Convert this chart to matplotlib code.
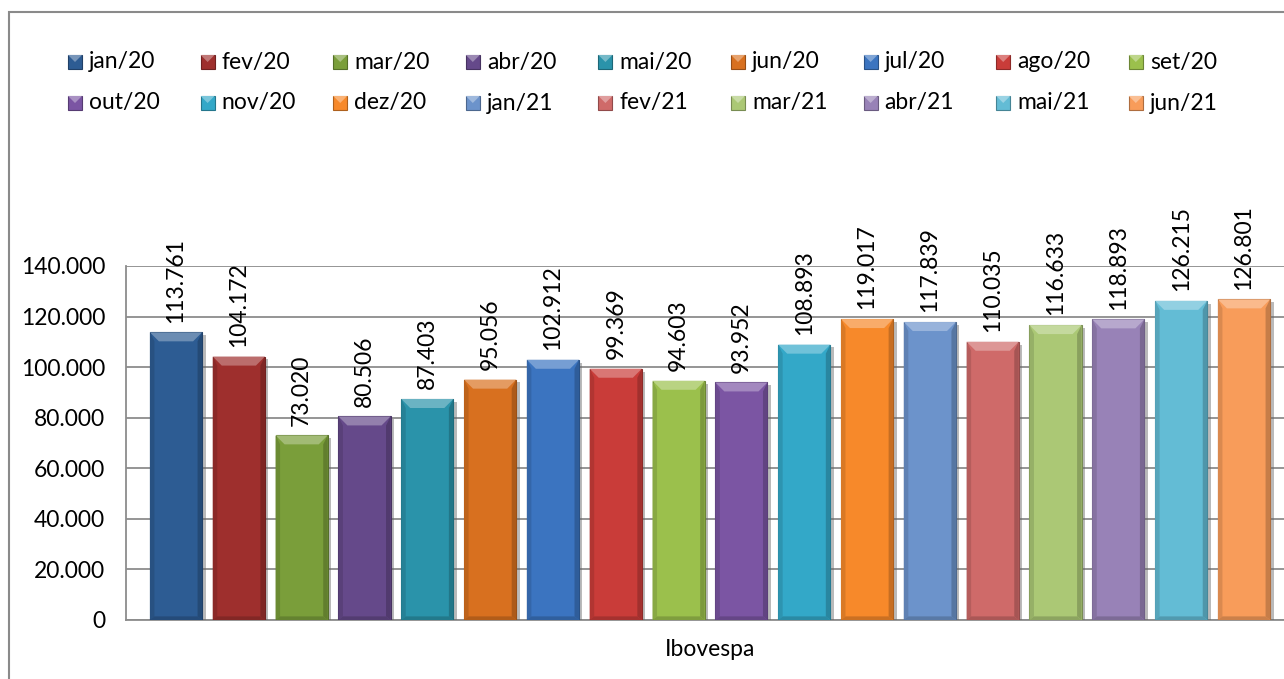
import matplotlib
matplotlib.use('Agg')
import matplotlib.pyplot as plt
import matplotlib.patheffects as pe
from matplotlib.patches import Rectangle, Polygon
from matplotlib.colors import to_rgb
from matplotlib.ticker import FuncFormatter
import numpy as np

meses = ['jan/20', 'fev/20', 'mar/20', 'abr/20', 'mai/20', 'jun/20',
         'jul/20', 'ago/20', 'set/20', 'out/20', 'nov/20', 'dez/20',
         'jan/21', 'fev/21', 'mar/21', 'abr/21', 'mai/21', 'jun/21']
valores = [113761, 104172, 73020, 80506, 87403, 95056,
           102912, 99369, 94603, 93952, 108893, 119017,
           117839, 110035, 116633, 118893, 126215, 126801]
cores = ['#2D5C93', '#9E2F2D', '#7A9E3A', '#65498A', '#2A93AA', '#D8701F',
         '#3B74C0', '#C93C39', '#9BC04C', '#7B55A3', '#33A8C8', '#F7892A',
         '#6C93CB', '#CF6A69', '#ABC875', '#9882B7', '#63BCD5', '#F89C5A']
y_ticks = [0, 20000, 40000, 60000, 80000, 100000, 120000, 140000]


def milhar(v, pos=None):
    return f"{int(v):,}".replace(",", ".")


def clarear(c, f):
    r = np.array(to_rgb(c))
    return tuple(r + (1 - r) * f)


def escurecer(c, f):
    return tuple(np.array(to_rgb(c)) * f)


plt.rcParams['font.family'] = ['Lato', 'DejaVu Sans']
FS = 16.5
W, H = 1284, 679
fig = plt.figure(figsize=(W / 100, H / 100), dpi=100)

# moldura externa do gráfico
fig.patches.append(Rectangle((9 / W, -0.1), 1.2, 1.1 - 12 / H, transform=fig.transFigure,
                             fill=False, edgecolor='#8a8a8a', linewidth=1.5))

ax = fig.add_axes([126 / W, 59 / H, (1294 - 126) / W, (620 - 266) / H])

x = np.arange(len(valores))
largura = 0.83
barras = ax.bar(x, valores, largura, color=cores,
                edgecolor=[escurecer(c, 0.7) for c in cores], linewidth=0.8, zorder=3,
                path_effects=[pe.SimplePatchShadow(offset=(2.5, -2), shadow_rgbFace='#666666', alpha=0.45),
                              pe.Normal()])

# chanfro: faceta clara no topo e laterais mais escuras
dx = 9 / 62.8
dy = 9 * 140000 / 354
for xi, v, c in zip(x, valores, cores):
    xl, xr = xi - largura / 2, xi + largura / 2
    ax.add_patch(Polygon([(xl, v), (xr, v), (xr - dx, v - dy), (xl + dx, v - dy)],
                         closed=True, facecolor=clarear(c, 0.3), edgecolor='none', zorder=4))
    ax.add_patch(Polygon([(xl, v), (xl + dx * 0.5, v - dy), (xl + dx * 0.5, dy * 0.4), (xl, 0)],
                         closed=True, facecolor=escurecer(c, 0.88), edgecolor='none', zorder=4))
    ax.add_patch(Polygon([(xr, v), (xr - dx * 0.5, v - dy), (xr - dx * 0.5, dy * 0.4), (xr, 0)],
                         closed=True, facecolor=escurecer(c, 0.8), edgecolor='none', zorder=4))
    ax.add_patch(Polygon([(xl, 0), (xr, 0), (xr - dx * 0.5, dy * 0.4), (xl + dx * 0.5, dy * 0.4)],
                         closed=True, facecolor=escurecer(c, 0.82), edgecolor='none', zorder=4))

ax.bar_label(barras, labels=[milhar(v) for v in valores], rotation=90, padding=7,
             fontsize=FS, color='black')

ax.set_xlim(-0.796, len(valores) - 1 + 0.796)
ax.set_ylim(0, 140000)
ax.set_yticks(y_ticks)
ax.yaxis.set_major_formatter(FuncFormatter(milhar))
ax.set_xticks([])
ax.tick_params(axis='y', length=0, pad=15, labelsize=FS, labelcolor='black')
ax.grid(axis='y', color='#8c8c8c', linewidth=1.3, zorder=0)
ax.set_axisbelow(True)
for lado in ['top', 'right']:
    ax.spines[lado].set_visible(False)
for lado in ['left', 'bottom']:
    ax.spines[lado].set_color('#8c8c8c')
    ax.spines[lado].set_linewidth(1.3)
ax.set_xlabel('Ibovespa', fontsize=FS, labelpad=14, color='black')

# legenda em duas linhas de nove itens
passo = 132.6
lado_px = 14
for i, (m, c) in enumerate(zip(meses, cores)):
    lin, col = divmod(i, 9)
    x0 = 68 + col * passo
    yc = 62 + lin * 41
    ax_x, ax_y = x0 / W, 1 - (yc + lado_px / 2) / H
    fig.patches.append(Rectangle((ax_x, ax_y), lado_px / W, lado_px / H, transform=fig.transFigure,
                                 facecolor=c, edgecolor=escurecer(c, 0.7), linewidth=0.8))
    fig.patches.append(Polygon([(x0 / W, 1 - (yc - lado_px / 2) / H),
                                ((x0 + lado_px) / W, 1 - (yc - lado_px / 2) / H),
                                ((x0 + lado_px / 2) / W, 1 - yc / H)],
                               closed=True, transform=fig.transFigure,
                               facecolor=clarear(c, 0.35), edgecolor='none'))
    fig.text((x0 + lado_px + 7) / W, 1 - yc / H, m, fontsize=FS, va='center', ha='left', color='black')

fig.savefig('out.png', dpi=100)
